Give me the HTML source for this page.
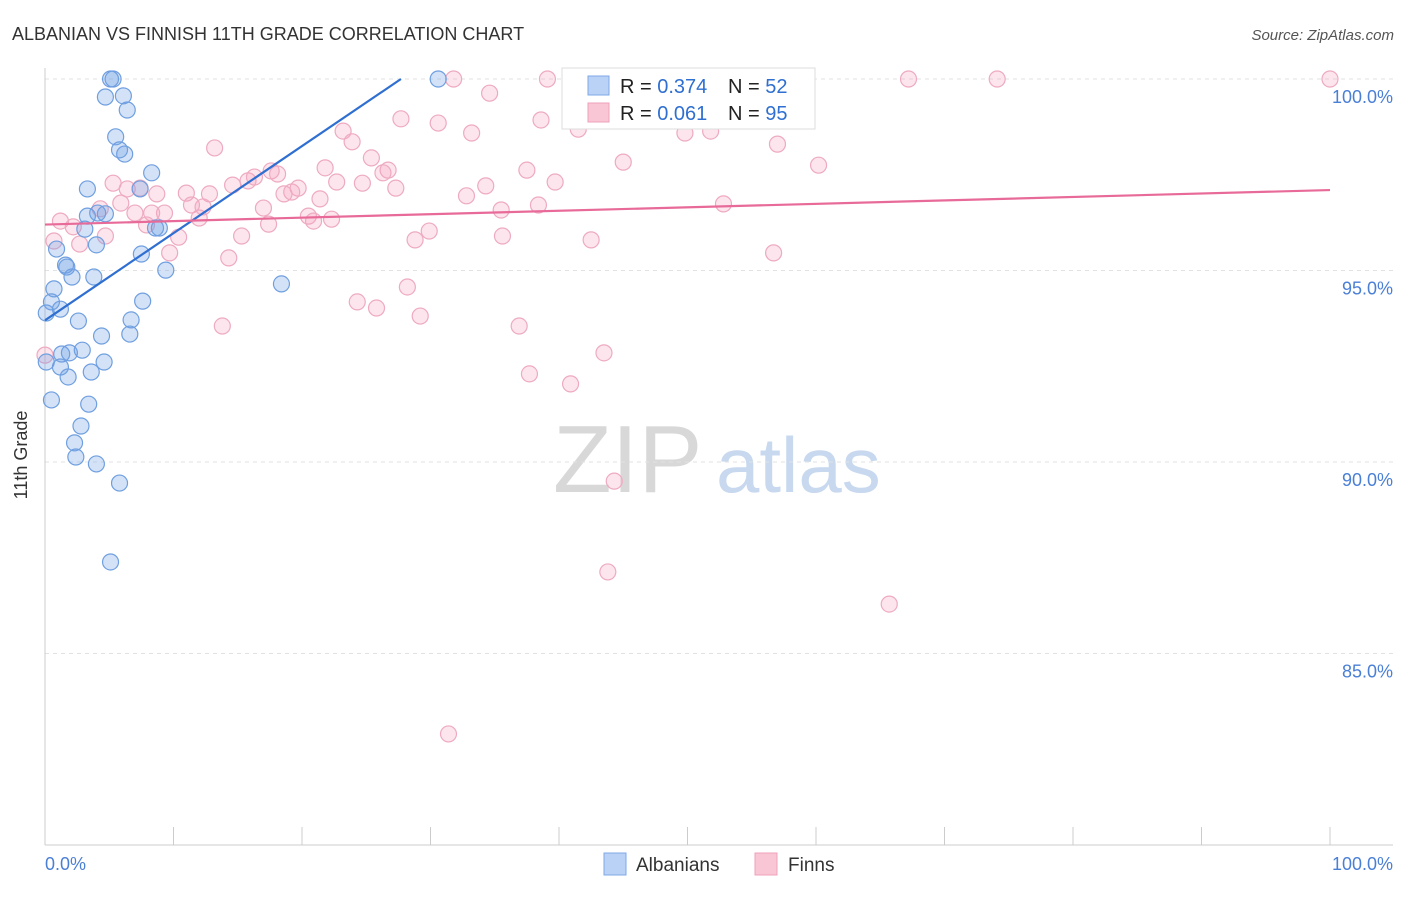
<!DOCTYPE html>
<html><head><meta charset="utf-8"><style>
body{margin:0;background:#fff;font-family:"Liberation Sans",sans-serif;}
svg text{font-family:"Liberation Sans",sans-serif;}
</style></head><body>
<svg id="chart" width="1406" height="892" xmlns="http://www.w3.org/2000/svg">
<text x="12" y="40" font-size="18" fill="#333">ALBANIAN VS FINNISH 11TH GRADE CORRELATION CHART</text>
<text x="1394" y="40" font-size="15" fill="#555" font-style="italic" text-anchor="end">Source: ZipAtlas.com</text>
<g>
<text x="553" y="492" font-size="96" fill="#d8d8d8" font-family="Liberation Serif,serif">ZIP</text>
<text x="716" y="492" font-size="78" fill="#c7d8ef">atlas</text>
</g>
<g id="grid"></g><g id="axes"></g><g id="pts"></g><g id="trends"></g>
<text x="27" y="455" font-size="18" fill="#333" text-anchor="middle" transform="rotate(-90 27 455)">11th Grade</text>
<g>
<rect x="562" y="68" width="253" height="61" fill="#fff" stroke="#ddd"/>
<rect x="588" y="76" width="21" height="19" fill="#b9d2f5" stroke="#7ea8e8"/>
<rect x="588" y="103" width="21" height="19" fill="#f9c6d6" stroke="#eea0b8"/>
<text x="620" y="93" font-size="20" fill="#222">R = <tspan fill="#2f6fd1">0.374</tspan></text>
<text x="728" y="93" font-size="20" fill="#222">N = <tspan fill="#2f6fd1">52</tspan></text>
<text x="620" y="120" font-size="20" fill="#222">R = <tspan fill="#2f6fd1">0.061</tspan></text>
<text x="728" y="120" font-size="20" fill="#222">N = <tspan fill="#2f6fd1">95</tspan></text>
</g>
<g>
<rect x="604" y="853" width="22" height="22" fill="#b9d2f5" stroke="#7ea8e8"/>
<text x="636" y="871" font-size="19" fill="#333">Albanians</text>
<rect x="755" y="853" width="22" height="22" fill="#f9c6d6" stroke="#eea0b8"/>
<text x="788" y="871" font-size="19" fill="#333">Finns</text>
</g>
</svg>
<script>
const blueX=[5.1,5.3,30.6,4.7,6.1,6.4,5.5,5.8,6.2,8.3,3.3,7.4,4.7,3.3,4.1,3.1,8.6,8.9,4.0,0.9,7.5,1.6,1.7,9.4,2.1,3.8,18.4,0.7,0.5,7.6,1.2,0.1,2.6,6.7,4.4,6.6,1.9,2.9,1.3,0.1,4.6,1.2,3.6,1.8,0.5,3.4,2.8,2.3,2.4,4.0,5.8,5.1];
const blueY=[100,100,100,99.53,99.56,99.19,98.49,98.15,98.04,97.55,97.13,97.13,96.48,96.42,96.5,96.08,96.11,96.11,95.67,95.56,95.43,95.14,95.09,95.01,94.83,94.83,94.65,94.52,94.18,94.2,93.99,93.89,93.68,93.71,93.29,93.34,92.85,92.92,92.82,92.61,92.61,92.48,92.35,92.22,91.62,91.51,90.94,90.5,90.13,89.95,89.45,87.39];
const pinkX=[31.8,39.1,55.7,59.0,67.2,74.1,100,34.6,27.7,30.6,38.6,41.5,33.2,49.8,51.8,23.2,23.9,57.0,13.2,25.4,45.0,60.2,21.8,17.6,18.1,26.7,37.5,26.3,15.8,16.3,5.3,7.4,39.7,14.6,34.3,22.7,24.7,27.3,6.4,11.0,12.8,8.7,19.7,19.2,18.6,32.8,21.4,38.4,52.8,4.3,5.9,11.4,12.3,17.0,7.0,8.3,9.3,35.5,20.5,22.3,20.9,1.2,2.2,7.9,12.0,17.4,10.4,15.3,4.7,29.9,28.8,35.6,42.5,0.7,2.7,9.7,14.3,56.7,28.2,24.3,25.8,29.2,13.8,36.9,43.5,37.7,40.9,44.3,43.8,65.7,31.4,0];
const pinkY=[100,100,100,100,100,100,100,99.63,98.96,98.85,98.93,98.69,98.59,98.59,98.64,98.64,98.36,98.30,98.20,97.94,97.83,97.75,97.68,97.60,97.52,97.62,97.62,97.55,97.34,97.44,97.28,97.15,97.31,97.23,97.21,97.31,97.28,97.15,97.13,97.02,97.0,97.0,97.15,97.05,97.0,96.95,96.87,96.71,96.74,96.61,96.76,96.71,96.66,96.63,96.50,96.50,96.50,96.58,96.42,96.34,96.29,96.29,96.14,96.19,96.37,96.21,95.87,95.90,95.90,96.03,95.80,95.90,95.80,95.77,95.69,95.46,95.33,95.46,94.57,94.18,94.02,93.81,93.55,93.55,92.85,92.30,92.04,89.50,87.13,86.29,82.90,92.79];
const blueTrendX=[0,27.7], blueTrendY=[93.7,100];
const pinkTrendX=[0,100], pinkTrendY=[96.2,97.1];
const yTicks=[100,95,90,85];
const yTickLabels=["100.0%","95.0%","90.0%","85.0%"];
const xAxisLabels=["0.0%","100.0%"];
const NS="http://www.w3.org/2000/svg";
const sx=v=>45+v*12.85, sy=v=>79+(100-v)*38.3;
function mk(tag,at,parent){const e=document.createElementNS(NS,tag);for(const k in at)e.setAttribute(k,at[k]);document.getElementById(parent).appendChild(e);return e;}
yTicks.forEach((t,i)=>{
 const l=mk('line',{x1:45,x2:1393,y1:sy(t),y2:sy(t),stroke:'#e2e2e2','stroke-dasharray':'4 4'},'grid');
 
 
 const tx=mk('text',{x:1393,y:sy(t)+24,'font-size':18,fill:'#4a7fd6','text-anchor':'end'},'grid');
 tx.textContent=yTickLabels[i];
 
 
});
mk('line',{x1:45,x2:45,y1:68,y2:845,stroke:'#ccc'},'axes');
mk('line',{x1:45,x2:1393,y1:845,y2:845,stroke:'#ccc'},'axes');
for(let i=0;i<=10;i++){const t=mk('line',{x1:sx(i*10),x2:sx(i*10),y1:827,y2:845,stroke:'#ccc'},'axes');
 
 }
const xl0=mk('text',{x:45,y:870,'font-size':18,fill:'#4a7fd6'},'axes');xl0.textContent=xAxisLabels[0];


const xl1=mk('text',{x:1393,y:870,'font-size':18,fill:'#4a7fd6','text-anchor':'end'},'axes');xl1.textContent=xAxisLabels[1];


pinkX.forEach((x,i)=>{const c=mk('circle',{cx:sx(x),cy:sy(pinkY[i]),r:8,fill:'rgba(244,160,190,0.28)',stroke:'#eeaac0','stroke-width':1.2},'pts');
 
 });
blueX.forEach((x,i)=>{const c=mk('circle',{cx:sx(x),cy:sy(blueY[i]),r:8,fill:'rgba(110,160,230,0.3)',stroke:'#6f9fe0','stroke-width':1.2},'pts');
 
 });
const bt=mk('line',{x1:sx(blueTrendX[0]),y1:sy(blueTrendY[0]),x2:sx(blueTrendX[1]),y2:sy(blueTrendY[1]),stroke:'#2f6fd1','stroke-width':2.2},'trends');


const pt=mk('line',{x1:sx(pinkTrendX[0]),y1:sy(pinkTrendY[0]),x2:sx(pinkTrendX[1]),y2:sy(pinkTrendY[1]),stroke:'#e86a98','stroke-width':2.2},'trends');


</script>
</body></html>
